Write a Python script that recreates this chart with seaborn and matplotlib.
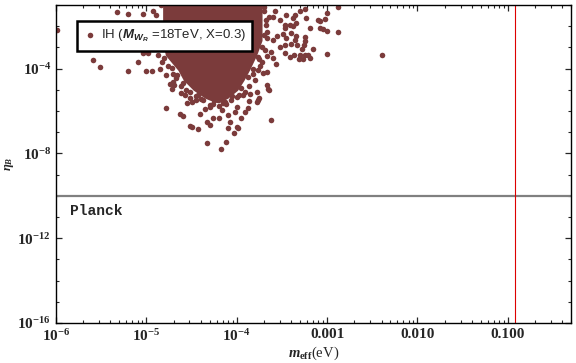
import numpy as np
import pandas as pd
import seaborn as sns
import matplotlib.pyplot as plt

# scattered points as log10 values
x_log = [-5.99, -5.33, -5.20, -5.04, -4.93, -4.89, -5.59, -5.51, -5.20, -5.00,
         -4.94, -4.85, -5.09, -5.04, -4.98, -4.78, -4.70, -4.71, -4.69, -4.72,
         -4.74, -4.78, -4.63, -4.59, -4.52, -4.49, -4.43, -4.33, -4.17, -4.12,
         -4.03, -3.99, -4.08, -4.20, -4.26, -4.33, -4.30, -4.41, -3.62, -3.76,
         -3.75, -3.65, -3.67, -3.64, -3.88, -3.91, -3.95, -4.02, -4.10, -4.00,
         -3.86, -4.50, -4.52, -4.57, -4.45, -4.30, -4.26, -4.10, -4.00, -3.78,
         -3.71, -3.56, -3.47, -3.60, -3.45, -3.40, -3.47, -3.52, -3.34, -3.60,
         -3.67, -3.64, -2.88, -3.00, -3.02, -3.10, -3.08, -3.23, -3.19, -3.08,
         -3.05, -3.00, -2.88, -3.24, -3.34, -3.24, -3.26, -3.16, -3.00, -2.39,
         -3.30, -3.25, -3.21, -3.19, -3.37, -3.41, -3.31, -3.27, -3.33, -3.40,
         -3.35, -3.47, -3.38, -3.38, -3.36, -3.30, -3.25, -3.49, -3.47, -3.60,
         -3.45, -3.41, -3.28, -3.52, -3.62, -3.67, -3.75, -3.78,
         -4.85, -4.87, -4.83, -4.76, -4.67, -4.62, -4.56, -4.43, -4.37, -4.21,
         -4.13, -4.06, -3.97, -3.91, -3.86, -3.80, -3.77, -3.72, -3.69, -3.66,
         -3.68, -3.70,
         -4.84, -4.83, -4.80, -4.72, -4.66, -4.60, -4.52, -4.40, -4.30, -4.20,
         -4.12, -3.70, -3.68, -3.70, -3.72, -3.76, -3.82, -3.88, -3.95, -4.05,
         -4.15, -4.45, -4.25, -4.00, -3.93, -3.85, -4.62, -4.55, -4.35, -4.16,
         -3.82, -3.74, -3.66, -4.90, -4.88, -3.58, -3.55]
y_log = [-2.20, -1.34, -1.41, -1.44, -1.26, -1.49, -3.61, -3.92, -4.11, -4.11,
         -4.11, -4.00, -3.69, -3.28, -3.28, -4.32, -4.27, -4.64, -4.79, -4.94,
         -4.71, -5.84, -6.12, -6.24, -6.70, -6.75, -6.86, -7.53, -7.81, -7.45,
         -7.06, -6.78, -6.51, -6.35, -6.32, -6.51, -6.67, -6.12, -6.43, -5.49,
         -5.38, -4.94, -4.79, -5.02, -5.88, -6.04, -6.35, -6.04, -6.20, -5.81,
         -5.54, -5.57, -5.41, -5.26, -5.49, -5.81, -5.65, -6.81, -6.75, -5.57,
         -4.22, -3.76, -3.28, -3.52, -2.57, -2.34, -2.10, -1.73, -1.87, -2.67,
         -2.28, -1.57, -1.10, -1.36, -1.65, -1.73, -1.76, -1.62, -2.09, -2.09,
         -2.15, -2.24, -2.28, -2.51, -2.47, -2.72, -2.90, -3.06, -3.29, -3.34,
         -3.34, -3.37, -3.34, -3.50, -3.37, -3.45, -3.56, -3.56, -2.90, -2.82,
         -2.67, -2.90, -2.00, -1.62, -1.46, -1.26, -1.21, -2.35, -1.96, -1.57,
         -1.49, -1.96, -3.06, -2.98, -3.22, -4.16, -3.53, -5.10,
         -2.67, -3.37, -3.70, -3.89, -4.46, -4.83, -5.02, -5.26, -5.49, -5.49,
         -5.59, -5.49, -5.26, -5.12, -4.83, -4.55, -4.08, -3.70, -3.14, -2.57,
         -1.96, -1.26,
         -1.00, -3.00, -3.50, -3.95, -4.30, -4.70, -5.10, -5.45, -5.70, -5.75,
         -5.65, -1.10, -1.70, -2.40, -3.00, -3.45, -4.00, -4.40, -4.90, -5.30,
         -5.60, -5.30, -5.50, -5.35, -5.25, -5.20, -5.15, -5.60, -5.90, -5.95,
         -4.25, -3.90, -3.40, -3.05, -2.80, -1.30, -2.45]

# outline of the solid dense core (log10 values)
core_eta_log = [-0.90, -2.67, -3.37, -4.08, -4.55, -5.02, -5.40, -5.59]
core_left_log = [-4.82, -4.82, -4.79, -4.65, -4.59, -4.48, -4.35, -4.24]
core_right_log = [-3.72, -3.72, -3.78, -3.86, -3.92, -3.99, -4.10, -4.19]

planck_eta = 1e-10
m_line = 0.12

xtick_vals = [1e-6, 1e-5, 1e-4, 1e-3, 1e-2, 1e-1]
xtick_labels = [r"$10^{-6}$", r"$10^{-5}$", r"$10^{-4}$", "0.001", "0.010", "0.100"]
ytick_vals = [1e-16, 1e-12, 1e-8, 1e-4]
ytick_labels = [r"$10^{-16}$", r"$10^{-12}$", r"$10^{-8}$", r"$10^{-4}$"]

sns.set_style("ticks")
plt.rcParams["font.family"] = ["Liberation Serif", "DejaVu Serif"]
plt.rcParams["font.weight"] = "bold"
plt.rcParams["mathtext.fontset"] = "custom"
plt.rcParams["mathtext.rm"] = "Liberation Serif:bold"
plt.rcParams["mathtext.it"] = "Liberation Serif:italic:bold"
plt.rcParams["mathtext.bf"] = "Liberation Serif:bold"
plt.rcParams["mathtext.sf"] = "Liberation Sans:italic"

dot_color = "#7b3b3b"

df = pd.DataFrame({"m_eff": 10 ** np.array(x_log), "eta_B": 10 ** np.array(y_log)})

fig = plt.figure(figsize=(5.76, 3.63), dpi=100)
ax = fig.add_axes([56 / 576, 40 / 363, 515 / 576, 318 / 363])

ax.fill_betweenx(10 ** np.array(core_eta_log), 10 ** np.array(core_left_log),
                 10 ** np.array(core_right_log), color=dot_color, linewidth=0)
sns.scatterplot(data=df, x="m_eff", y="eta_B", ax=ax, color=dot_color, s=16,
                linewidth=0, label=r"IH ($\mathsf{M_{W_R}}$ =18TeV, X=0.3)")

ax.axhline(planck_eta, color="#808080", linewidth=1.6)
ax.axvline(m_line, color="#dd0000", linewidth=0.8)

ax.set_xscale("log")
ax.set_yscale("log")
ax.set_xlim(1e-6, 0.5)
ax.set_ylim(1e-16, 1e-1)
ax.set_xticks(xtick_vals)
ax.set_xticklabels(xtick_labels)
ax.set_yticks(ytick_vals)
ax.set_yticklabels(ytick_labels)
ax.set_yticks([10.0 ** k for k in range(-16, 0)], minor=True)
ax.yaxis.set_minor_formatter(plt.NullFormatter())
ax.tick_params(which="both", direction="in", top=True, right=True, labelsize=11)
ax.tick_params(which="major", length=4, width=0.9)
ax.tick_params(which="minor", length=2.2, width=0.8)
for sp in ax.spines.values():
    sp.set_color("black")
    sp.set_linewidth(1.0)

ax.set_xlabel(r"$m_{\mathrm{eff}}$(eV)", fontsize=10.5, labelpad=1)
ax.set_ylabel(r"$\eta_B$", fontsize=9, labelpad=1)

ax.text(0.027, 0.352, "Planck", transform=ax.transAxes, fontsize=10.5,
        fontweight="bold", family="Liberation Mono", va="center", ha="left")

leg = ax.legend(loc="upper left", bbox_to_anchor=(0.041, 0.95), borderaxespad=0,
                fancybox=False, framealpha=1, edgecolor="black", markerscale=1.0,
                handletextpad=0.3, borderpad=0.5, handlelength=1.0,
                prop={"family": "Liberation Sans", "size": 9.5, "weight": "normal"})
leg.get_frame().set_linewidth(1.8)

fig.savefig("out.png", dpi=100)
